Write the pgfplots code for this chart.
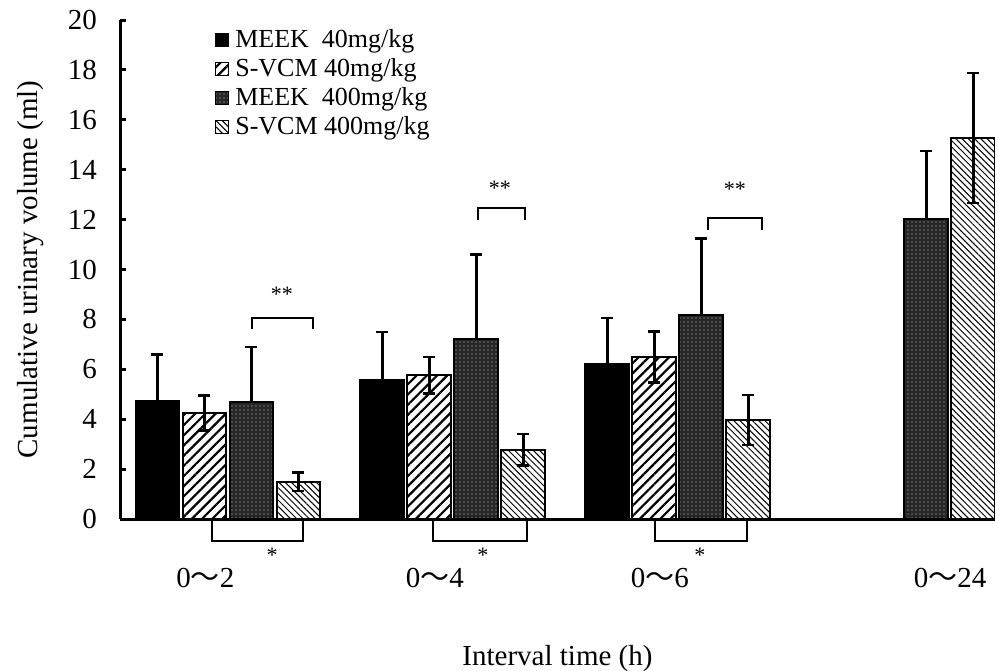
\documentclass[border=0pt]{standalone}
\usepackage{fontspec}
\setmainfont{Liberation Serif}
\newfontfamily\cjk{Noto Sans CJK SC}
\usepackage{pgfplots}
\pgfplotsset{compat=1.18}
\usetikzlibrary{patterns.meta}

\begin{document}
\begin{tikzpicture}
\begin{axis}[
    at={(0,0)}, anchor=south west,
    scale only axis,
    width=437.5pt, height=249.5pt,
    xmin=-0.48, xmax=3.41,
    ymin=0, ymax=20,
    clip=false,
    axis x line*=bottom, axis y line*=left,
    axis line style={line width=1.5pt, -},
    ytick={0,2,...,20},
    tick align=inside,
    major tick length=3pt,
    tick style={line width=1.5pt, black},
    xtick={-0.1,0.92,1.92,3.21},
    xticklabels={0{\cjk ～}2, 0{\cjk ～}4, 0{\cjk ～}6, 0{\cjk ～}24},
    x tick style={draw=none},
    tick label style={font=\fontsize{14.5}{17}\selectfont},
    /pgf/number format/assume math mode=true,
    xticklabel style={yshift=-18pt},
    yticklabel style={xshift=-8pt},
    xlabel={Interval time (h)},
    ylabel={Cumulative urinary volume (ml)},
    label style={font=\fontsize{14.5}{17}\selectfont},
    xlabel style={yshift=-22pt},
    ylabel style={yshift=5pt},
    ybar, bar width=0.195,
    every axis plot/.append style={draw=black, line width=1pt},
    error bars/error bar style={line width=1.3pt, black},
    error bars/error mark options={rotate=90, mark size=3pt, line width=1.3pt, black},
    legend style={at={(rel axis cs:0.108,0.99)}, anchor=north west, draw=none, fill=none,
        font=\fontsize{13}{15}\selectfont, row sep=0pt, inner sep=0pt,
        /tikz/every odd column/.append style={column sep=1pt}},
    legend cell align=left,
    legend image code/.code={\draw[#1, line width=0.6pt] (0pt,-3.3pt) rectangle (6.6pt,3.3pt);},
]
\addplot[fill=black, bar shift=-0.3135,
    error bars/.cd, y dir=plus, y explicit]
  coordinates {(0,4.73) +- (0,1.87) (1,5.57) +- (0,1.93) (2,6.2) +- (0,1.85)};
\addlegendentry{MEEK\enspace 40mg/kg}
\addplot[pattern={Lines[angle=45, distance=3.6pt, line width=1.1pt]}, pattern color=black, bar shift=-0.1045,
    error bars/.cd, y dir=both, y explicit]
  coordinates {(0,4.25) +- (0,0.7) (1,5.77) +- (0,0.73) (2,6.5) +- (0,1.02)};
\addlegendentry{S-VCM 40mg/kg}
\addplot[fill=black!85, postaction={pattern={Dots[radius=0.35pt, distance=2pt]}, pattern color=white!80!black}, bar shift=0.1045,
    error bars/.cd, y dir=plus, y explicit]
  coordinates {(0,4.7) +- (0,2.2) (1,7.2) +- (0,3.4) (2,8.17) +- (0,3.08) (3,12.03) +- (0,2.72)};
\addlegendentry{MEEK\enspace 400mg/kg}
\addplot[pattern={Lines[angle=-45, distance=2.2pt, line width=0.5pt]}, pattern color=black, bar shift=0.3135,
    error bars/.cd, y dir=both, y explicit]
  coordinates {(0,1.5) +- (0,0.37) (1,2.77) +- (0,0.63) (2,3.97) +- (0,1.0) (3,15.27) +- (0,2.6)};
\addlegendentry{S-VCM 400mg/kg}

% significance brackets above
\draw[line width=0.9pt] (axis cs:0.107,7.6) -- (axis cs:0.107,8.05) -- (axis cs:0.378,8.05) -- (axis cs:0.378,7.6);
\node[font=\fontsize{11}{12}\selectfont] at (axis cs:0.24,9.0) {**};
\draw[line width=0.9pt] (axis cs:1.111,12.0) -- (axis cs:1.111,12.46) -- (axis cs:1.32,12.46) -- (axis cs:1.32,12.0);
\node[font=\fontsize{11}{12}\selectfont] at (axis cs:1.209,13.27) {**};
\draw[line width=0.9pt] (axis cs:2.133,11.6) -- (axis cs:2.133,12.06) -- (axis cs:2.373,12.06) -- (axis cs:2.373,11.6);
\node[font=\fontsize{11}{12}\selectfont] at (axis cs:2.253,13.2) {**};
% significance brackets below
\draw[line width=0.9pt] (axis cs:-0.071,0) -- (axis cs:-0.071,-0.88) -- (axis cs:0.333,-0.88) -- (axis cs:0.333,0);
\node[font=\fontsize{11}{12}\selectfont] at (axis cs:0.196,-1.45) {*};
\draw[line width=0.9pt] (axis cs:0.911,0) -- (axis cs:0.911,-0.88) -- (axis cs:1.329,-0.88) -- (axis cs:1.329,0);
\node[font=\fontsize{11}{12}\selectfont] at (axis cs:1.133,-1.45) {*};
\draw[line width=0.9pt] (axis cs:1.898,0) -- (axis cs:1.898,-0.88) -- (axis cs:2.307,-0.88) -- (axis cs:2.307,0);
\node[font=\fontsize{11}{12}\selectfont] at (axis cs:2.098,-1.45) {*};
\end{axis}
\pgfresetboundingbox
\path (-60pt,-75.5pt) rectangle (437.5pt,259.5pt);
\end{tikzpicture}
\end{document}
